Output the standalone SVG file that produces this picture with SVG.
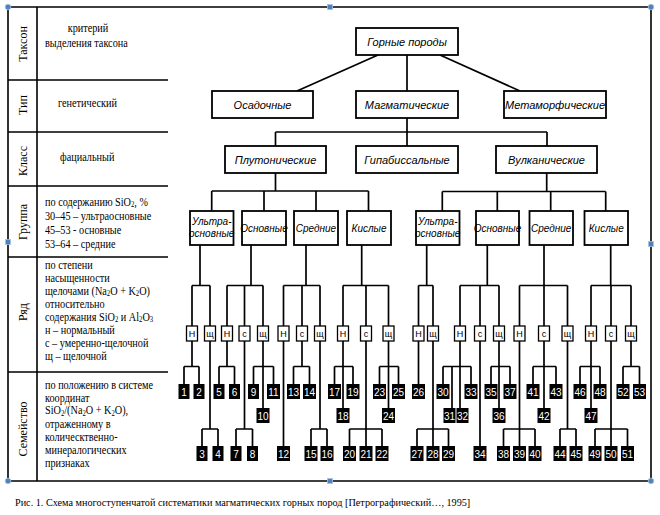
<svg xmlns="http://www.w3.org/2000/svg" width="660" height="515" viewBox="0 0 660 515">
<defs>
<style>
.fr{stroke:#000;stroke-width:1.6;fill:none}
.ln{stroke:#000;stroke-width:1.7;fill:none}
.bx{fill:#fff;stroke:#000;stroke-width:1.8}
.sb{fill:#fff;stroke:#000;stroke-width:1.3}
.nb{fill:#000}
.t1{font-family:"Liberation Sans",Arial,sans-serif;font-style:italic;font-size:11px;text-anchor:middle;fill:#000}
.t2{font-family:"Liberation Sans",Arial,sans-serif;font-style:italic;font-size:10px;text-anchor:middle;fill:#000}
.t3{font-family:"Liberation Sans",Arial,sans-serif;font-size:9px;text-anchor:middle;fill:#000}
.t4{font-family:"Liberation Sans",Arial,sans-serif;font-size:10px;text-anchor:middle;fill:#fff}
.lt{font-family:"Liberation Serif","Times New Roman",serif;font-size:11.5px;fill:#000}
.sub{font-size:7.5px;baseline-shift:-1.5px}
.rt{font-family:"Liberation Serif","Times New Roman",serif;font-size:12px;fill:#000;text-anchor:middle;dominant-baseline:central}
.cap{font-family:"Liberation Serif","Times New Roman",serif;font-size:10.2px;fill:#000}
.hd{fill:#4f81bd;stroke:#a9c1e0;stroke-width:0.8}
</style>
</defs>
<rect width="660" height="515" fill="#fff"/>

<g id="frame">
<path class="fr" d="M8,7 H651 V481 H8 Z"/>
<path class="fr" stroke-width="2" d="M37,7 V481"/>
<path class="fr" d="M8,80 H168 M8,132 H168 M8,186 H168 M8,257 H168 M8,372 H168"/>
</g>

<g id="table-labels">
<text class="rt" transform="translate(23,44) rotate(-90)">Таксон</text>
<text class="rt" transform="translate(23,105) rotate(-90)">Тип</text>
<text class="rt" transform="translate(23,161) rotate(-90)">Класс</text>
<text class="rt" transform="translate(23,222) rotate(-90)">Группа</text>
<text class="rt" transform="translate(23,312) rotate(-90)">Ряд</text>
<text class="rt" transform="translate(23,429) rotate(-90)">Семейство</text>
</g>
<g id="table-text" transform="translate(45,0) scale(0.89,1) translate(-45,0)">
<text class="lt" x="93.3" y="32" text-anchor="middle">критерий</text>
<text class="lt" x="45" y="47">выделения таксона</text>
<text class="lt" x="59.6" y="107">генетический</text>
<text class="lt" x="61.9" y="161">фациальный</text>
<text class="lt" x="45" y="206">по содержанию SiO<tspan class="sub">2</tspan>, %</text>
<text class="lt" x="45" y="220">30–45 – ультраосновные</text>
<text class="lt" x="45" y="234">45–53  - основные</text>
<text class="lt" x="45" y="248">53–64 – средние</text>
<text class="lt" x="45" y="269">по степени</text>
<text class="lt" x="45" y="282">насыщенности</text>
<text class="lt" x="45" y="295">щелочами (Na<tspan class="sub">2</tspan>O + K<tspan class="sub">2</tspan>O)</text>
<text class="lt" x="45" y="308">относительно</text>
<text class="lt" x="45" y="321">содержания SiO<tspan class="sub">2</tspan> и Al<tspan class="sub">2</tspan>O<tspan class="sub">3</tspan></text>
<text class="lt" x="45" y="334">н – нормальный</text>
<text class="lt" x="45" y="347">с – умеренно-щелочной</text>
<text class="lt" x="45" y="360">щ – щелочной</text>
<text class="lt" x="45" y="389">по положению в системе</text>
<text class="lt" x="45" y="402">координат</text>
<text class="lt" x="45" y="414.5">SiO<tspan class="sub">2</tspan>/(Na<tspan class="sub">2</tspan>O + K<tspan class="sub">2</tspan>O),</text>
<text class="lt" x="45" y="428.5">отраженному в</text>
<text class="lt" x="45" y="441.5">колическтвенно-</text>
<text class="lt" x="45" y="454.5">минералогических</text>
<text class="lt" x="45" y="467.5">признаках</text>
</g>

<g id="connectors">
<path class="ln" d="M378,55 L297,91 M407,55 V91 M440,55 L520,91 M407,118 V132 M275.5,132 H547 M275.5,132 V146 M407,132 V146 M547,132 V146"/>
<path class="ln" d="M275.5,173 V191 M211.7,191 H368.5 M211.7,191 V211 M264,191 V211 M316,191 V211 M368.5,191 V211"/>
<path class="ln" d="M546.7,173 V191.5 M442.3,191.5 H605.7 M442.3,191.5 V211 M497.3,191.5 V211 M550.7,191.5 V211 M605.7,191.5 V211"/>
<path class="ln" d="M200,245 V285.5 M192,285.5 H210 M192,285.5 V326 M210,285.5 V326
M251,245 V285.5 M227,285.5 H263 M227,285.5 V326 M244.5,285.5 V326 M263,285.5 V326
M306,245 V285.5 M283.5,285.5 H320 M283.5,285.5 V326 M302,285.5 V326 M320,285.5 V326
M361.7,245 V285.5 M343,285.5 H388.5 M343,285.5 V326 M366,285.5 V326 M388.5,285.5 V326
M426.7,245 V285.5 M418.5,285.5 H433 M418.5,285.5 V326 M433,285.5 V326
M487.3,245 V285.5 M460,285.5 H499 M460,285.5 V326 M480,285.5 V326 M499,285.5 V326
M544,245 V285.5 M519.5,285.5 H567.5 M519.5,285.5 V326 M544,285.5 V326 M567.5,285.5 V326
M610.7,245 V285.5 M591,285.5 H631 M591,285.5 V326 M611,285.5 V326 M631,285.5 V326"/>
<path class="ln" d="M192,341 V366.5 M184,366.5 H199 M184,366.5 V384 M199,366.5 V384
M210,341 V429 M202,429 H218 M202,429 V446 M218,429 V446
M227,341 V366.5 M219,366.5 H234.5 M219,366.5 V384 M234.5,366.5 V384
M244.5,341 V429 M236,429 H252.5 M236,429 V446 M252.5,429 V446
M263,341 V408 M253.5,366.5 H273.5 M253.5,366.5 V384 M273.5,366.5 V384
M283.5,341 V446
M302,341 V366.5 M293.5,366.5 H309.5 M293.5,366.5 V384 M309.5,366.5 V384
M320,341 V429 M311,429 H327 M311,429 V446 M327,429 V446
M343,341 V408 M334.5,366.5 H353 M334.5,366.5 V384 M353,366.5 V384
M366,341 V446 M349.5,429 H382 M349.5,429 V446 M382,429 V446
M388.5,341 V408 M379.5,366.5 H398.5 M379.5,366.5 V384 M398.5,366.5 V384"/>
<path class="ln" d="M418.5,341 V384
M433,341 V446 M417,429 H448.5 M417,429 V446 M448.5,429 V446
M460,341 V408 M443,366.5 H471 M443,366.5 V384 M471,366.5 V384 M452,366.5 V408
M480,341 V446
M499,341 V408 M491,366.5 H510 M491,366.5 V384 M510,366.5 V384
M519.5,341 V446 M503.5,429 H535 M503.5,429 V446 M535,429 V446
M544,341 V408 M533,366.5 H556 M533,366.5 V384 M556,366.5 V384
M567.5,341 V429 M560,429 H576 M560,429 V446 M576,429 V446
M591,341 V408 M580,366.5 H600 M580,366.5 V384 M600,366.5 V384
M611,341 V446 M595,429 H627.5 M595,429 V446 M627.5,429 V446
M631,341 V366.5 M623,366.5 H639.5 M623,366.5 V384 M639.5,366.5 V384"/>
</g>

<g id="n-gornye"><rect class="bx" x="356" y="28" width="102" height="27"/><text class="t1" x="407" y="45.5">Горные породы</text></g>
<g id="n-osad"><rect class="bx" x="212" y="91" width="101" height="27"/><text class="t1" x="262.5" y="108.5">Осадочные</text></g>
<g id="n-magm"><rect class="bx" x="356" y="91" width="102" height="27"/><text class="t1" x="407" y="108.5">Магматические</text></g>
<g id="n-metam"><rect class="bx" x="504" y="91" width="102" height="27"/><text class="t1" x="555" y="108.5">Метаморфические</text></g>
<g id="n-pluton"><rect class="bx" x="225" y="146" width="101" height="27"/><text class="t1" x="275.5" y="163.5">Плутонические</text></g>
<g id="n-gipab"><rect class="bx" x="356" y="146" width="102" height="27"/><text class="t1" x="407" y="163.5">Гипабиссальные</text></g>
<g id="n-vulk"><rect class="bx" x="496" y="146" width="101" height="27"/><text class="t1" x="546.5" y="163.5">Вулканические</text></g>

<g id="g-p-ultra"><rect class="bx" x="190" y="211" width="43.5" height="34"/><text class="t2" x="211.7" y="224.5">Ультра-</text><text class="t2" x="211.7" y="236.5">основные</text></g>
<g id="g-p-osn"><rect class="bx" x="242" y="211" width="44" height="34"/><text class="t2" x="264" y="231.5">Основные</text></g>
<g id="g-p-sred"><rect class="bx" x="294" y="211" width="44" height="34"/><text class="t2" x="316" y="231.5">Средние</text></g>
<g id="g-p-kisl"><rect class="bx" x="347" y="211" width="44" height="34"/><text class="t2" x="369" y="231.5">Кислые</text></g>
<g id="g-v-ultra"><rect class="bx" x="416" y="211" width="43.5" height="34"/><text class="t2" x="437.7" y="224.5">Ультра-</text><text class="t2" x="437.7" y="236.5">основные</text></g>
<g id="g-v-osn"><rect class="bx" x="476" y="211" width="43" height="34"/><text class="t2" x="497.5" y="231.5">Основные</text></g>
<g id="g-v-sred"><rect class="bx" x="529.5" y="211" width="43.5" height="34"/><text class="t2" x="551.2" y="231.5">Средние</text></g>
<g id="g-v-kisl"><rect class="bx" x="584.5" y="211" width="43.5" height="34"/><text class="t2" x="606.2" y="231.5">Кислые</text></g>

<g id="series">
<g id="s1"><rect class="sb" x="186.5" y="326" width="11" height="15"/><text class="t3" x="192" y="337">Н</text></g>
<g id="s2"><rect class="sb" x="204.5" y="326" width="11" height="15"/><text class="t3" x="210" y="337">щ</text></g>
<g id="s3"><rect class="sb" x="221.5" y="326" width="11" height="15"/><text class="t3" x="227" y="337">Н</text></g>
<g id="s4"><rect class="sb" x="239" y="326" width="11" height="15"/><text class="t3" x="244.5" y="337">с</text></g>
<g id="s5"><rect class="sb" x="257.5" y="326" width="11" height="15"/><text class="t3" x="263" y="337">щ</text></g>
<g id="s6"><rect class="sb" x="278" y="326" width="11" height="15"/><text class="t3" x="283.5" y="337">Н</text></g>
<g id="s7"><rect class="sb" x="296.5" y="326" width="11" height="15"/><text class="t3" x="302" y="337">с</text></g>
<g id="s8"><rect class="sb" x="314.5" y="326" width="11" height="15"/><text class="t3" x="320" y="337">щ</text></g>
<g id="s9"><rect class="sb" x="337.5" y="326" width="11" height="15"/><text class="t3" x="343" y="337">Н</text></g>
<g id="s10"><rect class="sb" x="360.5" y="326" width="11" height="15"/><text class="t3" x="366" y="337">с</text></g>
<g id="s11"><rect class="sb" x="383" y="326" width="11" height="15"/><text class="t3" x="388.5" y="337">щ</text></g>
<g id="s12"><rect class="sb" x="413" y="326" width="11" height="15"/><text class="t3" x="418.5" y="337">Н</text></g>
<g id="s13"><rect class="sb" x="427.5" y="326" width="11" height="15"/><text class="t3" x="433" y="337">щ</text></g>
<g id="s14"><rect class="sb" x="454.5" y="326" width="11" height="15"/><text class="t3" x="460" y="337">Н</text></g>
<g id="s15"><rect class="sb" x="474.5" y="326" width="11" height="15"/><text class="t3" x="480" y="337">с</text></g>
<g id="s16"><rect class="sb" x="493.5" y="326" width="11" height="15"/><text class="t3" x="499" y="337">щ</text></g>
<g id="s17"><rect class="sb" x="514" y="326" width="11" height="15"/><text class="t3" x="519.5" y="337">Н</text></g>
<g id="s18"><rect class="sb" x="538.5" y="326" width="11" height="15"/><text class="t3" x="544" y="337">с</text></g>
<g id="s19"><rect class="sb" x="562" y="326" width="11" height="15"/><text class="t3" x="567.5" y="337">щ</text></g>
<g id="s20"><rect class="sb" x="585.5" y="326" width="11" height="15"/><text class="t3" x="591" y="337">Н</text></g>
<g id="s21"><rect class="sb" x="605.5" y="326" width="11" height="15"/><text class="t3" x="611" y="337">с</text></g>
<g id="s22"><rect class="sb" x="625.5" y="326" width="11" height="15"/><text class="t3" x="631" y="337">щ</text></g>
</g>

<g id="families">
<g id="f1"><rect class="nb" x="178.5" y="384" width="11" height="15"/><text class="t4" x="184" y="395.5">1</text></g>
<g id="f2"><rect class="nb" x="193.5" y="384" width="11" height="15"/><text class="t4" x="199" y="395.5">2</text></g>
<g id="f3"><rect class="nb" x="196.5" y="446" width="11" height="15"/><text class="t4" x="202" y="457.5">3</text></g>
<g id="f4"><rect class="nb" x="212.5" y="446" width="11" height="15"/><text class="t4" x="218" y="457.5">4</text></g>
<g id="f5"><rect class="nb" x="213.5" y="384" width="11" height="15"/><text class="t4" x="219" y="395.5">5</text></g>
<g id="f6"><rect class="nb" x="229" y="384" width="11" height="15"/><text class="t4" x="234.5" y="395.5">6</text></g>
<g id="f7"><rect class="nb" x="230.5" y="446" width="11" height="15"/><text class="t4" x="236" y="457.5">7</text></g>
<g id="f8"><rect class="nb" x="247" y="446" width="11" height="15"/><text class="t4" x="252.5" y="457.5">8</text></g>
<g id="f9"><rect class="nb" x="248" y="384" width="11" height="15"/><text class="t4" x="253.5" y="395.5">9</text></g>
<g id="f10"><rect class="nb" x="256.5" y="408" width="13" height="15"/><text class="t4" x="263" y="419.5">10</text></g>
<g id="f11"><rect class="nb" x="267" y="384" width="13" height="15"/><text class="t4" x="273.5" y="395.5">11</text></g>
<g id="f12"><rect class="nb" x="277" y="446" width="13" height="15"/><text class="t4" x="283.5" y="457.5">12</text></g>
<g id="f13"><rect class="nb" x="287" y="384" width="13" height="15"/><text class="t4" x="293.5" y="395.5">13</text></g>
<g id="f14"><rect class="nb" x="303" y="384" width="13" height="15"/><text class="t4" x="309.5" y="395.5">14</text></g>
<g id="f15"><rect class="nb" x="304.5" y="446" width="13" height="15"/><text class="t4" x="311" y="457.5">15</text></g>
<g id="f16"><rect class="nb" x="320.5" y="446" width="13" height="15"/><text class="t4" x="327" y="457.5">16</text></g>
<g id="f17"><rect class="nb" x="328" y="384" width="13" height="15"/><text class="t4" x="334.5" y="395.5">17</text></g>
<g id="f18"><rect class="nb" x="336.5" y="408" width="13" height="15"/><text class="t4" x="343" y="419.5">18</text></g>
<g id="f19"><rect class="nb" x="346.5" y="384" width="13" height="15"/><text class="t4" x="353" y="395.5">19</text></g>
<g id="f20"><rect class="nb" x="343" y="446" width="13" height="15"/><text class="t4" x="349.5" y="457.5">20</text></g>
<g id="f21"><rect class="nb" x="359.5" y="446" width="13" height="15"/><text class="t4" x="366" y="457.5">21</text></g>
<g id="f22"><rect class="nb" x="375.5" y="446" width="13" height="15"/><text class="t4" x="382" y="457.5">22</text></g>
<g id="f23"><rect class="nb" x="373" y="384" width="13" height="15"/><text class="t4" x="379.5" y="395.5">23</text></g>
<g id="f24"><rect class="nb" x="382" y="408" width="13" height="15"/><text class="t4" x="388.5" y="419.5">24</text></g>
<g id="f25"><rect class="nb" x="392" y="384" width="13" height="15"/><text class="t4" x="398.5" y="395.5">25</text></g>
<g id="f26"><rect class="nb" x="412" y="384" width="13" height="15"/><text class="t4" x="418.5" y="395.5">26</text></g>
<g id="f27"><rect class="nb" x="410.5" y="446" width="13" height="15"/><text class="t4" x="417" y="457.5">27</text></g>
<g id="f28"><rect class="nb" x="426.5" y="446" width="13" height="15"/><text class="t4" x="433" y="457.5">28</text></g>
<g id="f29"><rect class="nb" x="442" y="446" width="13" height="15"/><text class="t4" x="448.5" y="457.5">29</text></g>
<g id="f30"><rect class="nb" x="436.5" y="384" width="13" height="15"/><text class="t4" x="443" y="395.5">30</text></g>
<g id="f31"><rect class="nb" x="443.5" y="408" width="12" height="15"/><text class="t4" x="449.5" y="419.5">31</text></g>
<g id="f32"><rect class="nb" x="456.5" y="408" width="12" height="15"/><text class="t4" x="462.5" y="419.5">32</text></g>
<g id="f33"><rect class="nb" x="464.5" y="384" width="13" height="15"/><text class="t4" x="471" y="395.5">33</text></g>
<g id="f34"><rect class="nb" x="473.5" y="446" width="13" height="15"/><text class="t4" x="480" y="457.5">34</text></g>
<g id="f35"><rect class="nb" x="484.5" y="384" width="13" height="15"/><text class="t4" x="491" y="395.5">35</text></g>
<g id="f36"><rect class="nb" x="492.5" y="408" width="13" height="15"/><text class="t4" x="499" y="419.5">36</text></g>
<g id="f37"><rect class="nb" x="503.5" y="384" width="13" height="15"/><text class="t4" x="510" y="395.5">37</text></g>
<g id="f38"><rect class="nb" x="497" y="446" width="13" height="15"/><text class="t4" x="503.5" y="457.5">38</text></g>
<g id="f39"><rect class="nb" x="513" y="446" width="13" height="15"/><text class="t4" x="519.5" y="457.5">39</text></g>
<g id="f40"><rect class="nb" x="528.5" y="446" width="13" height="15"/><text class="t4" x="535" y="457.5">40</text></g>
<g id="f41"><rect class="nb" x="526.5" y="384" width="13" height="15"/><text class="t4" x="533" y="395.5">41</text></g>
<g id="f42"><rect class="nb" x="537.5" y="408" width="13" height="15"/><text class="t4" x="544" y="419.5">42</text></g>
<g id="f43"><rect class="nb" x="549.5" y="384" width="13" height="15"/><text class="t4" x="556" y="395.5">43</text></g>
<g id="f44"><rect class="nb" x="553.5" y="446" width="13" height="15"/><text class="t4" x="560" y="457.5">44</text></g>
<g id="f45"><rect class="nb" x="569.5" y="446" width="13" height="15"/><text class="t4" x="576" y="457.5">45</text></g>
<g id="f46"><rect class="nb" x="573.5" y="384" width="13" height="15"/><text class="t4" x="580" y="395.5">46</text></g>
<g id="f47"><rect class="nb" x="584.5" y="408" width="13" height="15"/><text class="t4" x="591" y="419.5">47</text></g>
<g id="f48"><rect class="nb" x="593.5" y="384" width="13" height="15"/><text class="t4" x="600" y="395.5">48</text></g>
<g id="f49"><rect class="nb" x="588.5" y="446" width="13" height="15"/><text class="t4" x="595" y="457.5">49</text></g>
<g id="f50"><rect class="nb" x="604.5" y="446" width="13" height="15"/><text class="t4" x="611" y="457.5">50</text></g>
<g id="f51"><rect class="nb" x="621" y="446" width="13" height="15"/><text class="t4" x="627.5" y="457.5">51</text></g>
<g id="f52"><rect class="nb" x="616.5" y="384" width="13" height="15"/><text class="t4" x="623" y="395.5">52</text></g>
<g id="f53"><rect class="nb" x="633" y="384" width="13" height="15"/><text class="t4" x="639.5" y="395.5">53</text></g>
</g>

<g id="handles">
<circle class="hd" cx="8" cy="7" r="2.8"/>
<circle class="hd" cx="651" cy="7" r="2.8"/>
<circle class="hd" cx="8" cy="481" r="2.8"/>
<circle class="hd" cx="651" cy="481" r="2.8"/>
<rect class="hd" x="327.5" y="4.5" width="5" height="5"/>
<rect class="hd" x="327.5" y="478.5" width="5" height="5"/>
<rect class="hd" x="5.5" y="239.5" width="5" height="5"/>
<rect class="hd" x="648.5" y="241.5" width="5" height="5"/>
</g>

<text class="cap" x="15" y="506">Рис. 1. Схема многоступенчатой систематики магматических горных пород [Петрографический…, 1995]</text>
</svg>
